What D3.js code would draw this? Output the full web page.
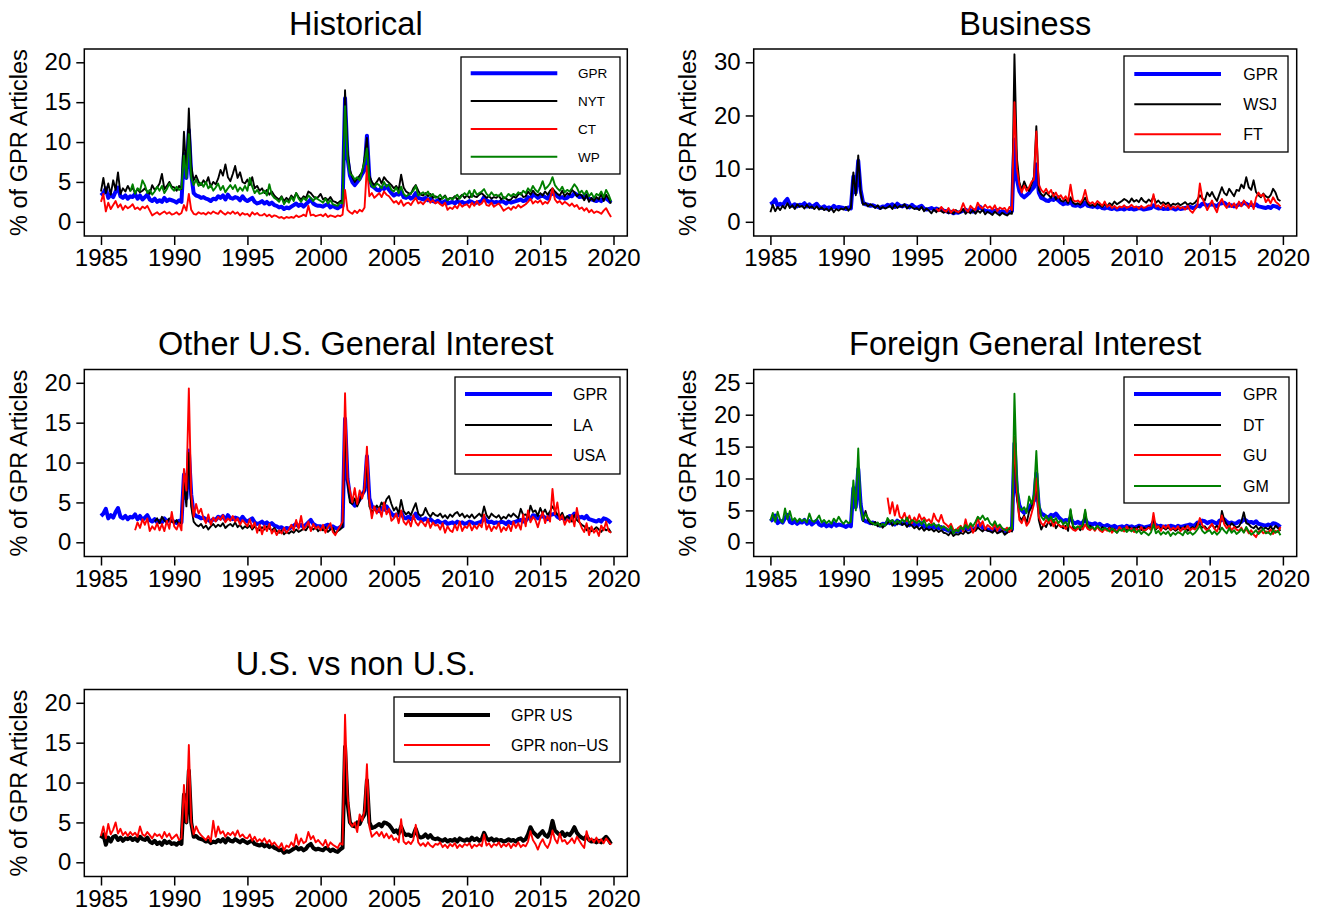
<!DOCTYPE html>
<html>
<head>
<meta charset="utf-8">
<script src="https://cdn.jsdelivr.net/npm/d3@7"></script>
<style>
  body { margin: 0; background: #fff; }
  text { font-family: "Liberation Sans", Arial, Helvetica, sans-serif; fill: #000; }
</style>
</head>
<body>
<svg id="chart" width="1321" height="916"></svg>
<script>
/*** DATA : one value every 2 months (Jan, Mar, May, Jul, Sep, Nov), 1985-2019 ***/
const _ = null;
const startYear = 1985, stepMonths = 2;
const tickYears = [1985, 1990, 1995, 2000, 2005, 2010, 2015, 2020];

/* GPR index (blue, used in 4 panels) */
const gpr = [
  3.3, 3.6, 4.2, 3.0, 3.4, 3.1,
  3.8, 4.3, 3.2, 3.0, 3.3, 2.9,
  3.2, 3.1, 3.5, 2.9, 3.3, 2.8,
  3.1, 3.4, 2.8, 2.6, 2.9, 2.5,
  2.7, 2.5, 3.0, 2.6, 2.8, 2.7,
  2.6, 2.4, 2.7, 2.5, 8.5, 5.5,
  11.5, 6.0, 3.6, 3.3, 3.2, 3.0,
  3.1, 2.9, 2.8, 2.6, 2.9, 2.8,
  3.2, 3.0, 3.3, 2.8, 3.4, 3.0,
  2.9, 3.1, 3.0, 2.7, 3.2, 2.8,
  2.6, 2.8, 3.0, 2.5, 2.3, 2.4,
  2.6, 2.3, 2.5, 2.2, 2.4, 2.1,
  2.0, 1.8, 1.9, 1.6, 1.8, 1.7,
  1.9, 2.1, 2.3, 2.0, 2.2, 1.9,
  2.2, 2.5, 2.8, 2.3, 2.1, 2.0,
  2.0, 1.9, 2.1, 2.2, 1.8, 2.0,
  1.8, 1.7, 1.9, 2.0, 15.5, 8.0,
  5.8, 5.0, 4.6, 5.0, 5.4, 6.0,
  6.5, 10.8, 5.5, 4.5, 4.3, 4.0,
  3.9, 4.3, 4.1, 4.5, 4.0, 3.6,
  3.3, 3.5, 3.4, 3.8, 3.1, 3.0,
  3.2, 2.9, 3.1, 3.6, 3.0, 2.9,
  2.8, 3.0, 2.7, 2.9, 2.6, 2.5,
  2.7, 2.5, 2.4, 2.6, 2.3, 2.4,
  2.5, 2.3, 2.6, 2.4, 2.5, 2.3,
  2.4, 2.6, 2.5, 2.3, 2.4, 2.5,
  2.6, 3.1, 2.7, 2.5, 2.6, 2.4,
  2.5, 2.4, 2.6, 2.5, 2.3, 2.6,
  2.4, 2.5, 2.6, 2.7, 2.8, 2.6,
  2.7, 3.1, 2.9, 3.4, 3.3, 3.0,
  3.2, 3.3, 3.1, 2.9, 3.4, 3.5,
  3.6, 3.2, 3.0, 3.1, 2.9, 3.0,
  3.3, 3.2, 3.6, 3.4, 3.1, 3.2,
  3.0, 3.3, 2.9, 2.8, 2.7, 2.6,
  2.8, 2.6, 3.0, 2.9, 2.7, 2.4
];

/* Historical */
const nyt = [
  3.8, 5.5, 3.6, 4.8, 3.4, 5.2,
  4.0, 6.2, 3.5, 4.2, 3.8, 4.5,
  3.9, 4.3, 3.6, 4.1, 3.7, 3.9,
  4.2, 3.8, 3.5, 4.6, 4.0, 4.3,
  4.8, 6.0, 4.1, 4.5, 5.0, 4.4,
  4.3, 3.9, 4.5, 4.1, 11.3, 6.0,
  14.2, 7.0, 5.2, 5.8, 5.0, 4.6,
  5.2, 4.8, 5.6, 4.4, 5.0, 4.7,
  5.4, 6.5, 5.8, 7.2, 5.6, 5.1,
  6.0, 7.0, 5.5, 6.2, 5.0, 4.8,
  5.3, 4.6, 5.6, 4.2, 4.5, 3.9,
  4.2, 3.6, 4.0, 3.4, 3.8, 3.3,
  3.0, 2.8, 3.2, 2.6, 3.0, 2.7,
  3.3, 2.9, 3.6, 3.1, 2.8, 3.2,
  3.0, 3.8, 3.6, 3.2, 2.9, 3.1,
  3.5, 2.8, 3.0, 2.7, 3.1, 2.6,
  2.5, 2.3, 2.6, 2.7, 16.5, 9.0,
  6.5, 5.6, 5.0, 5.4, 5.8, 6.2,
  8.0, 10.5, 5.8, 5.0, 4.6, 5.0,
  5.5, 4.8, 5.6, 5.2, 4.9, 4.6,
  4.2, 4.5, 4.0, 5.9, 4.3, 3.8,
  3.6, 3.5, 4.2, 4.6, 3.9, 3.4,
  3.3, 3.6, 3.2, 3.5, 3.0, 3.2,
  3.1, 2.8, 3.0, 3.3, 2.7, 3.0,
  2.9, 3.2, 2.8, 3.1, 3.4, 3.0,
  3.3, 3.0, 3.5, 3.2, 3.1, 3.4,
  3.6, 3.3, 3.0, 3.2, 2.9, 3.1,
  3.0, 3.3, 2.8, 3.1, 2.9, 2.7,
  2.8, 3.2, 3.0, 3.4, 3.6, 3.1,
  3.2, 3.8, 3.4, 3.9, 3.5, 3.3,
  3.6, 3.3, 3.8, 3.4, 3.9, 4.2,
  3.8, 3.5, 3.3, 3.9, 3.2, 3.6,
  3.4, 4.0, 3.7, 3.2, 3.5, 3.3,
  2.7, 3.4, 2.5, 3.0, 2.6, 3.1,
  2.8, 3.5, 2.6, 3.4, 2.9, 2.3
];
const ct = [
  2.5, 3.5, 1.3, 2.4, 1.6, 2.1,
  2.6, 1.8, 2.2, 1.5, 2.0, 1.7,
  1.9, 2.2, 1.6, 1.8, 1.5, 1.9,
  1.7, 2.0, 1.4, 0.8, 1.0, 1.2,
  0.9, 1.1, 1.3, 1.0, 1.2, 0.9,
  1.0, 1.2, 0.9, 1.1, 2.1, 1.4,
  3.5, 1.5, 1.0, 0.9, 1.2, 1.0,
  1.1, 0.9, 1.2, 1.0, 1.3, 1.1,
  1.0, 1.4, 1.1, 0.9, 1.2, 1.0,
  1.3, 1.0, 1.2, 0.8, 1.1, 0.9,
  1.0, 0.7, 1.2, 0.9, 1.1, 0.8,
  0.8, 1.0, 0.7, 0.9, 0.6, 0.8,
  0.7, 0.5, 0.6, 0.4, 0.6, 0.5,
  0.6, 0.5, 0.8, 0.6, 0.7, 0.9,
  0.7, 2.0, 0.8, 0.9, 0.7, 0.8,
  0.9, 0.7, 1.0, 0.6, 0.8, 0.7,
  0.6, 0.8, 0.7, 0.9, 4.0, 1.5,
  1.2, 1.0, 1.4, 1.1, 1.5, 1.3,
  1.8, 7.0, 3.2, 3.6, 3.0, 3.3,
  3.6, 3.1, 3.8, 3.4, 3.2, 2.8,
  2.4, 2.6, 2.2, 2.7, 2.0, 2.3,
  2.4, 2.1, 2.6, 3.0, 2.3, 2.5,
  2.2, 2.6, 2.9, 2.4, 2.7, 2.3,
  2.5, 2.2, 2.0, 2.4, 1.5, 1.8,
  1.6, 2.0, 1.7, 2.3, 1.9, 2.1,
  2.2, 1.8, 2.4, 2.0, 2.6, 2.1,
  2.3, 2.8, 2.1, 2.0, 2.4, 1.9,
  2.1, 2.3, 1.9, 1.4, 1.6, 1.8,
  1.5, 1.9, 1.7, 2.1, 1.8, 2.0,
  2.2, 2.5, 2.9, 2.3, 2.6, 2.4,
  2.7, 2.2, 2.5, 2.3, 2.8, 4.2,
  2.8, 2.4, 2.6, 2.2, 2.5, 2.3,
  2.0, 2.3, 1.9, 2.1, 1.6, 1.8,
  1.4, 1.7, 1.2, 1.5, 1.1, 1.3,
  1.2, 1.0, 1.4, 1.7, 1.1, 0.6
];
const wp = [
  _, _, _, _, _, _,
  _, _, _, _, _, _,
  3.8, 4.7, 3.5, 4.2, 3.9, 5.2,
  4.6, 3.6, 4.0, 3.4, 3.8, 4.4,
  3.9, 4.5, 3.6, 4.1, 4.8, 4.2,
  3.9, 4.4, 4.0, 4.2, 8.3, 5.5,
  11.0, 5.5, 4.6, 5.3, 4.5, 4.9,
  4.4, 5.0, 4.2, 4.6, 3.9, 4.3,
  4.8, 4.0, 4.5, 3.7, 4.2, 4.6,
  4.1, 4.6, 3.8, 4.3, 3.9, 4.5,
  3.9, 5.5, 4.4, 3.6, 4.0, 3.5,
  3.6, 3.9, 3.3, 4.7, 3.4, 3.0,
  2.8, 2.5, 3.1, 2.2, 2.7, 2.4,
  3.1, 2.6, 3.6, 2.9, 2.5, 3.0,
  2.7, 3.3, 3.0, 2.6, 3.1, 2.8,
  2.6, 2.4, 2.9, 2.3, 2.7, 2.2,
  2.1, 2.0, 2.4, 2.3, 14.5, 8.0,
  6.0, 5.8, 5.3, 5.6, 5.2, 6.4,
  7.5, 9.2, 5.2, 4.5, 4.3, 4.8,
  4.6, 4.2, 5.0, 4.4, 4.7, 4.0,
  3.8, 4.3, 3.6, 4.4, 3.5, 3.2,
  3.4, 3.6, 3.9, 4.5, 3.3, 3.5,
  3.7, 3.4, 3.8, 3.2, 3.5, 3.0,
  3.1, 3.4, 2.9, 3.2, 2.7, 3.0,
  2.8, 3.1, 3.4, 2.9, 3.3, 3.6,
  3.3, 3.9, 3.1, 4.0, 3.4, 3.6,
  3.8, 4.1, 3.5, 3.2, 3.7, 3.3,
  3.4, 3.2, 3.6, 2.9, 3.1, 3.5,
  3.2, 3.5, 3.3, 3.7, 3.4, 3.9,
  3.6, 4.2, 3.8, 4.5, 4.0, 3.7,
  4.3, 5.1, 4.1, 4.4, 4.8, 5.6,
  4.6, 4.2, 3.9, 4.4, 3.7, 4.0,
  3.8, 4.2, 4.7, 4.3, 3.6, 3.9,
  3.4, 3.9, 3.2, 3.6, 3.0, 3.5,
  3.3, 3.8, 3.1, 4.0, 3.4, 2.6
];

/* Business */
const wsj = [
  1.8, 3.2, 2.0, 2.8, 2.2, 3.0,
  2.5, 3.5, 2.6, 3.1, 2.4, 3.3,
  2.8, 3.0, 2.5, 3.2, 2.6, 2.9,
  2.4, 2.9, 2.3, 2.7, 2.2, 2.5,
  2.0, 2.6, 1.8, 2.4, 2.1, 2.5,
  2.3, 2.8, 2.1, 2.6, 9.3, 5.0,
  12.5, 5.5, 3.2, 3.5, 2.9, 3.3,
  3.0, 2.6, 3.1, 2.4, 2.8, 2.5,
  2.7, 3.0, 2.4, 3.2, 2.6, 3.0,
  2.8, 3.3, 2.5, 3.0, 2.7, 2.4,
  2.6, 2.2, 2.8, 2.0, 2.5, 2.1,
  1.6, 2.3, 1.8, 2.5, 2.0, 1.7,
  2.1, 1.6, 1.9, 1.5, 2.2, 1.7,
  1.8, 2.4, 1.5, 2.0, 1.6, 2.2,
  1.5, 2.1, 1.7, 2.3, 1.4, 1.9,
  1.6, 1.3, 1.9, 1.5, 1.2, 1.7,
  1.4, 1.2, 1.6, 1.5, 31.5, 12.0,
  7.5, 6.0, 7.6, 6.5, 5.8, 7.0,
  8.5, 18.0, 6.0, 5.2, 4.8, 5.5,
  5.0, 4.5, 5.4, 4.2, 4.8, 4.0,
  3.8, 4.2, 3.5, 4.6, 3.6, 3.3,
  3.5, 3.2, 3.8, 4.5, 3.4, 3.0,
  3.2, 2.9, 3.4, 3.1, 2.8, 3.3,
  2.9, 3.5, 3.1, 3.8, 3.3, 3.6,
  3.9, 4.3, 4.0, 3.6, 4.4, 3.8,
  4.1, 3.7, 4.5, 3.9, 3.6, 4.2,
  3.8, 4.8, 3.6, 4.0, 3.4, 3.7,
  3.3, 3.6, 3.0, 3.4, 3.2, 3.5,
  3.1, 3.4, 3.7, 3.2, 3.5, 3.3,
  3.6, 4.2, 5.0, 4.4, 4.0, 5.5,
  4.8, 5.6, 4.6, 3.9, 5.2, 6.5,
  5.4, 5.0, 6.2, 5.5, 4.8, 6.0,
  5.8, 7.0, 6.3, 8.4, 6.5, 6.0,
  7.8, 5.6, 5.0, 4.6, 5.3, 4.8,
  4.5, 5.0, 6.2, 5.5, 4.2, 3.9
];
const ft = [
  _, _, _, _, _, _,
  _, _, _, _, _, _,
  _, _, _, _, _, _,
  _, _, _, _, _, _,
  _, _, _, _, _, _,
  _, _, _, _, _, _,
  _, _, _, _, _, _,
  _, _, _, _, _, _,
  _, _, _, _, _, _,
  _, _, _, _, _, _,
  _, _, _, _, _, _,
  _, _, 2.5, 2.0, 2.8, 2.2,
  1.9, 2.6, 1.7, 2.3, 2.0, 1.8,
  2.2, 3.5, 2.4, 1.9, 3.0, 2.5,
  2.2, 3.6, 2.8, 2.5, 3.2, 2.6,
  2.9, 2.3, 3.1, 2.0, 2.7, 2.4,
  2.6, 1.9, 2.8, 2.2, 22.5, 10.0,
  7.0, 5.5, 6.8, 5.8, 6.5, 7.5,
  8.0, 17.0, 7.0, 6.0, 5.5, 6.2,
  5.3, 6.0, 4.8, 5.5, 4.5, 5.0,
  4.2, 4.8, 3.9, 7.0, 4.1, 3.8,
  4.0, 3.6, 4.3, 6.0, 3.9, 3.4,
  3.7, 3.2, 3.9, 3.5, 3.0, 3.8,
  2.8, 3.2, 2.6, 3.0, 2.5, 2.9,
  2.7, 3.1, 2.6, 2.8, 3.2, 2.7,
  2.9, 2.5, 3.0, 2.6, 2.8, 3.1,
  3.0, 5.2, 2.8, 3.1, 2.6, 3.3,
  2.7, 3.2, 2.4, 2.9, 2.6, 3.0,
  2.5, 2.8, 2.3, 3.0, 2.1, 1.7,
  2.4, 3.0, 7.2, 4.5, 3.3, 2.2,
  3.1, 4.0, 2.7, 1.8, 3.5, 4.3,
  3.2, 2.6, 3.6, 2.8, 3.5, 2.5,
  3.8, 2.9, 4.0, 3.3, 2.6, 3.9,
  2.4, 4.5, 5.5, 4.8, 5.2, 3.7,
  4.3, 3.5, 4.6, 3.8, 3.4, 2.9
];

/* Other U.S. General Interest */
const la = [
  _, _, _, _, _, _,
  _, _, _, _, _, _,
  _, _, _, _, _, _,
  _, _, _, _, 2.6, 3.0,
  2.4, 3.2, 2.7, 2.5, 3.0, 2.6,
  2.4, 2.8, 2.2, 2.6, 7.5, 4.5,
  11.2, 4.5, 2.6, 2.2, 2.0, 2.3,
  1.8, 2.1, 1.6, 2.0, 2.3, 1.9,
  2.2, 2.0, 2.4, 1.8, 2.1, 2.3,
  2.0, 2.5, 1.9, 2.2, 1.7, 2.0,
  1.8, 2.1, 1.6, 2.0, 1.7, 1.5,
  1.9, 1.6, 2.0, 1.7, 1.5, 1.8,
  1.4, 1.2, 1.5, 1.0, 1.3, 1.1,
  1.4, 1.2, 1.6, 1.3, 1.5, 1.7,
  1.5, 2.0, 1.8, 1.6, 1.9, 1.4,
  1.7, 1.5, 1.9, 1.3, 1.6, 1.8,
  1.1, 1.4, 1.6, 1.9, 15.0, 7.5,
  5.0, 4.8, 5.5, 4.5, 5.2, 6.0,
  6.5, 10.5, 4.5, 3.8, 4.2, 4.6,
  4.2, 5.0, 4.5, 5.4, 5.8, 4.8,
  4.0, 4.4, 3.6, 5.3, 3.9, 3.5,
  3.8, 3.4, 4.2, 4.9, 3.6, 3.3,
  3.5, 4.3, 3.6, 3.2, 3.7, 3.4,
  3.3, 3.6, 3.1, 3.4, 3.0, 3.5,
  3.2, 3.6, 3.8, 3.3, 3.6, 3.1,
  3.4, 3.1, 3.5, 3.0, 3.3, 3.6,
  3.2, 4.5, 3.4, 3.0, 3.6, 3.3,
  3.1, 3.4, 2.9, 3.2, 3.0, 3.5,
  3.2, 3.6, 3.3, 3.0, 4.2, 3.4,
  3.5, 3.1, 4.6, 3.8, 4.0, 3.3,
  4.3, 3.6, 4.1, 3.4, 3.9, 4.5,
  4.0, 3.5, 3.2, 3.7, 2.9, 3.3,
  3.0, 2.6, 3.4, 2.8, 2.5, 2.2,
  2.0, 1.5, 1.8, 1.4, 1.6, 1.9,
  1.6, 1.3, 1.8, 1.5, 1.7, 1.2
];
const usa = [
  _, _, _, _, _, _,
  _, _, _, _, _, _,
  _, _, 1.5, 2.5, 1.8, 2.9,
  2.2, 3.0, 1.4, 2.0, 1.6, 2.4,
  1.5, 2.3, 1.4, 2.7, 1.7, 3.8,
  2.0, 1.6, 2.4, 1.5, 9.2, 6.5,
  19.3, 6.0, 3.2, 4.8, 3.6, 4.2,
  3.0, 2.4, 3.5, 2.2, 3.1, 2.6,
  3.2, 2.8, 3.4, 2.5, 3.0, 2.7,
  3.3, 2.6, 3.0, 2.2, 2.8, 2.4,
  2.0, 2.9, 1.8, 2.5, 1.2, 2.2,
  1.0, 2.1, 1.4, 2.3, 1.1, 1.6,
  0.9, 1.5, 1.1, 1.8, 1.2, 1.6,
  2.2, 1.5, 2.8, 1.7, 3.3, 1.6,
  2.0, 2.6, 1.4, 2.3, 1.7, 2.0,
  1.5, 2.2, 1.2, 1.9, 2.4, 1.3,
  0.9, 1.5, 2.0, 2.6, 18.7, 8.0,
  6.5, 5.0, 6.8, 4.8, 6.5, 5.5,
  6.8, 12.0, 5.2, 3.0, 4.5, 3.6,
  4.3, 3.2, 5.0, 3.5, 4.2, 2.7,
  3.0, 3.6, 2.4, 4.0, 2.6, 2.2,
  2.8, 2.0, 3.4, 2.5, 2.1, 2.7,
  2.4, 2.0, 2.9, 1.8, 2.5, 2.1,
  2.2, 1.6, 2.4, 1.2, 2.0, 1.5,
  1.3, 2.2, 1.5, 2.6, 1.4, 2.0,
  1.8, 2.4, 1.5, 2.1, 1.7, 2.3,
  1.9, 3.5, 1.6, 2.2, 1.4, 2.0,
  1.7, 2.4, 1.3, 1.9, 1.5, 2.2,
  1.4, 2.6, 1.8, 2.4, 1.6, 3.5,
  2.0, 4.0, 2.5, 3.2, 2.8, 1.9,
  3.0, 3.8, 2.4, 3.3, 2.6, 6.7,
  3.5, 5.0, 2.8, 3.4, 2.2, 2.9,
  2.5, 3.4, 2.0, 4.3, 2.6, 1.8,
  1.3, 2.4, 0.9, 2.0, 1.2, 1.6,
  0.8, 2.1, 1.5, 2.6, 1.4, 1.2
];

/* Foreign General Interest */
const dt = [
  _, _, _, _, _, _,
  _, _, _, _, _, _,
  _, _, _, _, _, _,
  _, _, _, _, _, _,
  _, _, _, _, _, _,
  _, _, _, _, _, _,
  _, _, 3.2, 4.9, 3.5, 3.0,
  2.8, 3.2, 2.5, 2.9, 2.3, 2.7,
  3.0, 3.4, 2.6, 3.1, 2.8, 3.3,
  2.7, 3.0, 2.4, 2.9, 2.6, 2.2,
  2.5, 2.0, 2.4, 1.8, 2.2, 1.9,
  2.1, 1.7, 2.0, 1.6, 1.9, 1.5,
  1.4, 1.1, 1.6, 1.0, 1.3, 1.2,
  1.5, 1.3, 1.8, 1.4, 1.6, 2.0,
  1.8, 2.3, 2.0, 1.7, 2.1, 1.8,
  1.7, 1.5, 1.9, 1.4, 1.6, 1.8,
  1.2, 1.5, 1.9, 1.7, 16.0, 7.0,
  4.0, 3.5, 4.2, 3.0, 4.8, 5.5,
  6.5, 9.5, 3.5, 2.0, 2.8, 2.4,
  3.3, 2.6, 3.5, 2.2, 2.8, 2.5,
  2.2, 2.6, 1.8, 5.0, 2.3, 2.0,
  2.4, 1.9, 2.5, 4.8, 2.2, 2.6,
  2.3, 2.0, 2.6, 1.9, 2.4, 2.1,
  2.0, 2.3, 1.7, 2.1, 1.5, 2.0,
  1.9, 2.2, 1.8, 2.4, 2.0, 2.3,
  2.1, 2.5, 1.9, 2.3, 2.0, 2.4,
  2.2, 3.8, 2.0, 2.5, 2.1, 2.3,
  2.0, 2.4, 1.9, 2.2, 1.8, 2.1,
  2.3, 2.0, 2.5, 1.8, 2.2, 2.4,
  2.1, 3.0, 2.6, 2.3, 2.5, 2.0,
  2.4, 2.8, 2.2, 2.6, 2.1, 4.9,
  3.5, 2.8, 2.4, 3.0, 2.6, 2.3,
  2.5, 3.2, 4.7, 3.0, 2.8, 2.4,
  2.2, 2.6, 2.0, 2.4, 2.1, 2.3,
  2.0, 2.5, 1.9, 2.6, 2.2, 1.8
];
const gu = [
  _, _, _, _, _, _,
  _, _, _, _, _, _,
  _, _, _, _, _, _,
  _, _, _, _, _, _,
  _, _, _, _, _, _,
  _, _, _, _, _, _,
  _, _, _, _, _, _,
  _, _, _, _, _, _,
  7.0, 4.5, 6.3, 4.2, 5.8, 4.0,
  3.7, 4.6, 3.3, 4.2, 3.0, 3.9,
  3.2, 4.4, 3.5, 3.9, 3.3, 3.6,
  3.0, 4.5, 3.6, 3.2, 4.3, 3.1,
  2.8, 2.4, 2.9, 2.0, 1.8, 2.3,
  2.6, 1.7, 3.6, 2.1, 2.8, 1.5,
  2.2, 3.9, 2.5, 3.3, 2.0, 2.7,
  2.4, 2.0, 2.9, 1.8, 2.5, 2.1,
  1.9, 2.3, 1.6, 2.2, 16.5, 8.0,
  3.5, 3.0, 4.0, 2.6, 3.2, 4.5,
  6.0, 10.0, 4.0, 3.0, 2.6, 3.5,
  3.0, 3.7, 2.5, 3.2, 2.8, 2.4,
  2.6, 2.1, 2.8, 2.4, 2.0, 1.8,
  2.2, 2.6, 2.0, 2.8, 2.1, 1.9,
  2.3, 1.8, 2.4, 1.9, 1.6, 2.1,
  1.8, 2.2, 1.5, 2.0, 1.6, 2.4,
  2.0, 1.7, 2.5, 1.9, 2.2, 1.6,
  2.1, 1.8, 2.4, 1.7, 2.0, 2.3,
  1.9, 4.6, 2.2, 2.5, 1.8, 2.6,
  2.2, 2.7, 1.9, 2.3, 2.0, 2.5,
  1.7, 2.3, 2.0, 2.6, 1.9, 2.2,
  2.0, 2.5, 3.8, 2.7, 2.2, 1.8,
  2.4, 2.9, 2.1, 1.7, 2.6, 4.2,
  2.8, 2.2, 2.6, 1.9, 2.4, 2.0,
  1.8, 2.3, 1.6, 2.1, 1.4, 1.9,
  1.2, 0.8, 1.6, 1.9, 1.4, 1.7,
  1.5, 2.0, 1.3, 1.8, 1.6, 2.4
];
const gm = [
  3.4, 4.6, 3.2, 4.8, 3.5, 3.1,
  5.3, 3.6, 4.9, 3.4, 3.8, 3.2,
  3.7, 3.3, 3.6, 3.1, 4.5, 3.4,
  3.2, 3.6, 4.2, 3.1, 3.5, 3.0,
  3.4, 2.9, 3.7, 3.2, 4.0, 3.3,
  2.9, 3.4, 3.0, 3.2, 9.7, 5.0,
  14.7, 5.5, 3.5, 4.5, 3.8, 3.2,
  3.0, 2.7, 3.1, 2.5, 2.9, 2.6,
  3.8, 3.2, 3.5, 2.9, 3.4, 3.0,
  3.6, 3.2, 3.9, 3.0, 3.5, 3.3,
  3.0, 3.4, 2.8, 3.5, 2.5, 2.9,
  2.6, 3.0, 2.4, 2.8, 2.2, 2.5,
  2.2, 1.8, 2.5, 1.4, 2.0, 1.7,
  2.4, 2.0, 2.7, 2.2, 3.0, 2.5,
  3.2, 4.0, 3.6, 4.2, 3.5, 3.8,
  3.0, 2.6, 3.3, 2.4, 2.8, 2.2,
  2.0, 1.8, 2.3, 2.1, 23.3, 10.0,
  5.5, 5.0, 5.5, 4.6, 7.2, 6.0,
  7.5, 14.3, 6.5, 4.0, 3.5, 4.2,
  3.4, 4.0, 3.2, 3.8, 3.0, 3.5,
  2.8, 3.2, 2.5, 5.2, 2.6, 2.2,
  2.5, 2.2, 2.8, 5.1, 2.6, 2.2,
  2.4, 2.0, 2.6, 2.2, 1.9, 2.3,
  2.0, 1.7, 2.2, 1.8, 1.5, 2.0,
  1.8, 2.2, 1.6, 2.0, 1.7, 2.1,
  1.5, 1.9, 1.3, 1.7, 1.4, 1.1,
  1.6, 2.8, 1.4, 1.8, 1.2, 1.6,
  1.3, 1.7, 1.0, 1.5, 1.2, 1.6,
  1.4, 1.1, 1.8, 1.3, 1.6, 1.2,
  1.5, 2.0, 2.6, 1.8, 1.4, 1.7,
  1.9, 1.3, 1.7, 1.2, 1.6, 2.3,
  1.8, 1.4, 2.2, 1.5, 1.9, 1.3,
  1.6, 2.1, 1.5, 2.4, 1.7, 1.2,
  1.5, 1.9, 1.3, 1.7, 2.1, 1.4,
  1.6, 1.2, 1.9, 1.5, 1.8, 1.1
];

/* U.S. vs non U.S. */
const gprUS = [
  3.0, 3.5, 2.2, 3.1, 2.6, 3.2,
  3.3, 2.8, 3.1, 2.7, 3.0, 2.9,
  3.1, 2.8, 3.0, 2.7, 3.2, 2.9,
  2.8, 3.1, 2.6, 2.4, 2.7, 2.3,
  2.5, 2.2, 2.7, 2.4, 2.6, 2.3,
  2.4, 2.2, 2.5, 2.3, 8.5, 5.0,
  11.5, 5.0, 3.2, 3.3, 3.0, 2.9,
  2.8, 2.6, 2.7, 2.4, 2.6, 2.5,
  2.8, 2.6, 2.9, 2.5, 3.0, 2.7,
  2.6, 2.9, 2.7, 2.5, 2.8, 2.6,
  2.4, 2.6, 2.7, 2.3, 2.2, 2.1,
  2.3, 2.0, 2.2, 1.9, 2.1, 1.8,
  1.7, 1.5, 1.6, 1.2, 1.4, 1.3,
  1.5, 1.7, 1.9, 1.6, 1.8, 1.5,
  1.7, 2.1, 2.3, 1.8, 1.6, 1.7,
  1.6, 1.5, 1.8, 1.7, 1.4, 1.6,
  1.4, 1.3, 1.6, 1.8, 14.5, 7.5,
  5.0, 4.6, 4.5, 5.0, 4.8, 5.5,
  6.0, 10.3, 5.0, 4.3, 4.4, 4.6,
  4.8, 4.5, 5.0, 4.9, 4.7, 4.3,
  3.8, 4.0, 3.6, 4.5, 3.7, 3.4,
  3.5, 3.3, 3.4, 4.2, 3.3, 3.1,
  3.2, 3.5, 3.1, 3.4, 3.0, 2.9,
  3.0, 2.8, 2.7, 2.9, 2.6, 2.8,
  2.7, 2.9, 2.6, 3.0, 2.8, 2.7,
  2.9, 2.7, 3.1, 2.8, 3.0, 2.7,
  2.9, 3.7, 3.0, 2.8, 3.0, 2.7,
  2.9, 2.7, 2.8, 2.6, 2.7, 2.9,
  2.7, 2.8, 2.6, 2.9, 3.0, 2.7,
  2.9, 3.5, 4.4, 3.8, 3.5, 3.2,
  3.6, 3.9, 3.4, 3.2, 3.8, 5.2,
  4.0, 3.7, 3.4, 3.8, 3.3, 3.6,
  3.4, 3.8, 4.4, 3.7, 3.3, 3.1,
  2.9, 3.3, 2.8, 2.6, 2.7, 2.5,
  2.7, 2.5, 2.9, 3.2, 2.8, 2.3
];
const gprNonUS = [
  3.3, 4.5, 3.0, 4.8, 3.5, 4.1,
  5.0, 3.6, 4.2, 3.4, 3.8, 3.3,
  3.8, 3.4, 3.7, 3.2, 4.5, 3.5,
  3.3, 3.8, 3.4, 3.0, 3.6, 3.3,
  3.5, 3.0, 3.8, 3.2, 3.6, 2.9,
  3.2, 3.5, 2.8, 3.0, 9.7, 5.0,
  14.7, 5.0, 3.5, 4.5, 3.8, 3.4,
  3.1, 2.8, 3.3, 2.6, 5.2, 3.2,
  4.5, 3.6, 3.9, 3.2, 3.7, 3.4,
  3.8, 3.3, 4.0, 3.2, 3.5, 3.1,
  3.0, 3.5, 2.7, 3.2, 2.6, 2.9,
  2.6, 3.0, 2.4, 2.8, 2.2, 2.5,
  2.1, 1.8, 2.4, 1.5, 2.1, 1.9,
  2.5, 2.0, 3.5, 2.2, 3.0, 2.4,
  2.6, 3.8, 2.9, 3.3, 2.5, 2.8,
  2.4, 2.1, 2.8, 1.9, 2.5, 2.2,
  2.0, 1.8, 2.4, 2.2, 18.5, 8.5,
  5.0, 4.5, 5.0, 3.8, 6.0, 5.2,
  6.5, 12.3, 4.5, 3.2, 3.5, 3.8,
  3.3, 3.8, 3.1, 3.6, 3.0, 3.4,
  2.8, 3.0, 2.5, 5.4, 2.6, 2.3,
  2.6, 2.3, 2.8, 4.7, 2.5, 2.1,
  2.4, 2.0, 2.5, 2.1, 1.9, 2.3,
  2.2, 2.5, 1.9, 2.2, 1.8, 2.3,
  2.0, 2.4, 1.8, 2.2, 1.9, 2.3,
  2.1, 2.4, 1.8, 2.2, 2.0, 2.3,
  2.0, 3.5, 2.1, 2.4, 1.9, 2.3,
  2.1, 2.5, 1.9, 2.3, 2.0, 2.4,
  1.8, 2.3, 2.0, 2.5, 1.9, 2.2,
  2.0, 2.6, 3.9, 2.8, 2.3, 1.6,
  2.4, 2.9, 2.2, 1.8, 2.5, 4.0,
  2.9, 2.4, 3.6, 2.6, 2.8, 2.3,
  2.6, 3.0, 2.4, 3.2, 2.7, 2.2,
  1.8, 3.9, 2.7, 3.0, 2.5, 3.1,
  2.5, 2.9, 2.4, 3.0, 2.6, 2.2
];

/*** LAYOUT ***/
const BLUE = '#0000ff', BLACK = '#000000', RED = '#ff0000', GREEN = '#008000';
const THICK = 4, THIN = 1.9;
const rowTop = [0, 320.5, 640.5];
const colShift = [0, 669.4];
const box = { left: 84.3, right: 627.3, top: 49, bottom: 236 };
const xRange = [101, 613.5];          /* 1985 -> 2020 */
const yRange = [221.8, 62.3];         /* 0 -> highest tick */

const dates = gpr.map((d, i) => new Date(startYear, i * stepMonths, 1));

const panels = [
  { title: 'Historical', row: 0, col: 0, yTicks: [0, 5, 10, 15, 20],
    legend: { x0: 461, x1: 620, y0: 57, y1: 174, lx0: 470.7, lx1: 557.3, tx: 578, ys: [73.3, 101, 129, 156.7], fs: 13.5 },
    series: [
      { name: 'GPR', values: gpr, color: BLUE, w: THICK },
      { name: 'NYT', values: nyt, color: BLACK, w: THIN },
      { name: 'CT', values: ct, color: RED, w: THIN },
      { name: 'WP', values: wp, color: GREEN, w: THIN }
    ] },
  { title: 'Business', row: 0, col: 1, yTicks: [0, 10, 20, 30],
    legend: { x0: 1124, x1: 1288, y0: 56, y1: 152, lx0: 1134.3, lx1: 1221, tx: 1243.3, ys: [74, 104.3, 134.3], fs: 16 },
    series: [
      { name: 'GPR', values: gpr, color: BLUE, w: THICK },
      { name: 'WSJ', values: wsj, color: BLACK, w: THIN },
      { name: 'FT', values: ft, color: RED, w: THIN }
    ] },
  { title: 'Other U.S. General Interest', row: 1, col: 0, yTicks: [0, 5, 10, 15, 20],
    legend: { x0: 455, x1: 620, y0: 56.5, y1: 153.5, lx0: 465, lx1: 552, tx: 573, ys: [73.5, 104.5, 134.5], fs: 16 },
    series: [
      { name: 'GPR', values: gpr, color: BLUE, w: THICK },
      { name: 'LA', values: la, color: BLACK, w: THIN },
      { name: 'USA', values: usa, color: RED, w: THIN }
    ] },
  { title: 'Foreign General Interest', row: 1, col: 1, yTicks: [0, 5, 10, 15, 20, 25],
    legend: { x0: 1124, x1: 1289, y0: 56.5, y1: 182.5, lx0: 1134, lx1: 1221, tx: 1243, ys: [73.5, 104.5, 134.5, 165.5], fs: 16 },
    series: [
      { name: 'GPR', values: gpr, color: BLUE, w: THICK },
      { name: 'DT', values: dt, color: BLACK, w: THIN },
      { name: 'GU', values: gu, color: RED, w: THIN },
      { name: 'GM', values: gm, color: GREEN, w: THIN }
    ] },
  { title: 'U.S. vs non U.S.', row: 2, col: 0, yTicks: [0, 5, 10, 15, 20],
    legend: { x0: 394, x1: 620, y0: 56.5, y1: 121.5, lx0: 404, lx1: 490, tx: 511, ys: [74.5, 104.5], fs: 16 },
    series: [
      { name: 'GPR US', values: gprUS, color: BLACK, w: THICK },
      { name: 'GPR non\u2212US', values: gprNonUS, color: RED, w: THIN }
    ] }
];

/*** GRAPH ***/
const svg = d3.select('#chart');

panels.forEach(p => {
  p.series.forEach(s => {
    if (s.values.length !== dates.length) throw new Error(p.title + ' ' + s.name + ' has ' + s.values.length);
  });

  const dx = colShift[p.col], dy = rowTop[p.row];
  const g = svg.append('g').attr('transform', `translate(${dx},${dy})`);

  const xScale = d3.scaleTime()
    .domain([new Date(1985, 0, 1), new Date(2020, 0, 1)])
    .range(xRange);
  const yScale = d3.scaleLinear()
    .domain([0, d3.max(p.yTicks)])
    .range(yRange);

  /* titre */
  g.append('text')
    .attr('x', (box.left + box.right) / 2)
    .attr('y', 34.5)
    .attr('text-anchor', 'middle')
    .style('font-size', '32.5px')
    .text(p.title);

  /* titre axe ordonnées */
  g.append('text')
    .attr('transform', `translate(27,${(box.top + box.bottom) / 2}) rotate(-90)`)
    .attr('text-anchor', 'middle')
    .style('font-size', '23.5px')
    .text('% of GPR Articles');

  /* séries */
  const line = d3.line()
    .defined(d => d !== null)
    .x((d, i) => xScale(dates[i]))
    .y(d => yScale(d));

  p.series.forEach(s => {
    g.append('path')
      .datum(s.values)
      .attr('d', line)
      .attr('fill', 'none')
      .attr('stroke', s.color)
      .attr('stroke-width', s.w)
      .attr('stroke-linejoin', 'round');
  });

  /* cadre */
  g.append('rect')
    .attr('x', box.left).attr('y', box.top)
    .attr('width', box.right - box.left).attr('height', box.bottom - box.top)
    .attr('fill', 'none').attr('stroke', '#000').attr('stroke-width', 1.5);

  /* axes */
  const xAxis = d3.axisBottom(xScale)
    .tickValues(tickYears.map(y => new Date(y, 0, 1)))
    .tickFormat(d3.timeFormat('%Y'))
    .tickSize(9).tickPadding(4).tickSizeOuter(0);
  const xg = g.append('g').attr('transform', `translate(0,${box.bottom})`).call(xAxis);
  xg.select('.domain').remove();

  const yAxis = d3.axisLeft(yScale)
    .tickValues(p.yTicks)
    .tickSize(8).tickPadding(5).tickSizeOuter(0);
  const yg = g.append('g').attr('transform', `translate(${box.left},0)`).call(yAxis);
  yg.select('.domain').remove();

  [xg, yg].forEach(a => {
    a.selectAll('line').attr('stroke', '#000').attr('stroke-width', 1.5);
    a.selectAll('text').style('font-size', '24px').style('font-family', '"Liberation Sans", Arial, sans-serif').attr('fill', '#000');
  });

  /* légende */
  const L = p.legend;
  g.append('rect')
    .attr('x', L.x0 - dx).attr('y', L.y0)
    .attr('width', L.x1 - L.x0).attr('height', L.y1 - L.y0)
    .attr('fill', '#fff').attr('stroke', '#000').attr('stroke-width', 1.3);
  p.series.forEach((s, i) => {
    g.append('line')
      .attr('x1', L.lx0 - dx).attr('x2', L.lx1 - dx)
      .attr('y1', L.ys[i]).attr('y2', L.ys[i])
      .attr('stroke', s.color).attr('stroke-width', s.w);
    g.append('text')
      .attr('x', L.tx - dx).attr('y', L.ys[i])
      .attr('dy', '0.36em')
      .style('font-size', L.fs + 'px')
      .text(s.name);
  });
});
</script>
</body>
</html>
